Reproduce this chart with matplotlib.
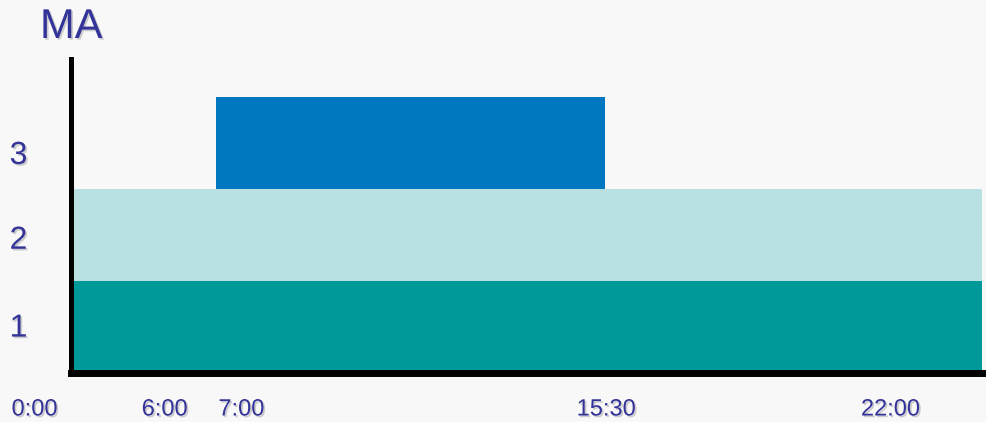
import matplotlib
matplotlib.use('Agg')
import matplotlib.pyplot as plt
import matplotlib.patheffects as pe
from matplotlib.transforms import ScaledTranslation, blended_transform_factory

TEXT_COLOR = '#333399'
BG = '#f8f8f8'
plt.rcParams['font.family'] = ['Liberation Sans', 'DejaVu Sans']

# staffing levels over the day (hours)
levels = ['1', '2', '3']
level_start = [0.0, 0.0, 7.0]
level_end = [24.0, 24.0, 15.5]
level_colors = ['#009999', '#b9e0e3', '#0077c1']

tick_hours = [0.0, 6.0, 7.0, 15.5, 22.0]
tick_labels = ['0:00', '6:00', '7:00', '15:30', '22:00']

shadow = [pe.withSimplePatchShadow(offset=(1.2, -1.2), shadow_rgbFace='#777777', alpha=0.35)]

fig = plt.figure(figsize=(9.86, 4.22), dpi=100, facecolor=BG)
ax = fig.add_axes([70.5 / 986, 1 - 372.5 / 422, (982 - 70.5) / 986, (372.5 - 59) / 422])
ax.set_facecolor(BG)

for i, (s, e, c) in enumerate(zip(level_start, level_end, level_colors)):
    ax.barh(i, e - s, left=s, height=1.0, align='edge', color=c, zorder=2)

ax.set_xlim(3.81, 23.74)
ax.set_ylim(0, 3.414)

for side in ['top', 'right']:
    ax.spines[side].set_visible(False)
ax.spines['left'].set_linewidth(3.6)
ax.spines['bottom'].set_linewidth(5)
ax.spines['left'].set_zorder(5)
ax.spines['bottom'].set_zorder(5)
ax.spines['left'].set_capstyle('projecting')
ax.set_xticks([])
ax.set_yticks([])

# x labels: the axis origin stands for 0:00, the chart is schematic
trans_x = blended_transform_factory(ax.transData, ax.transAxes)
x_nudge = [-36, -6, 2, 1, -12]
x_align = ['center', 'center', 'left', 'center', 'center']
for h, lab, dx, ha in zip(tick_hours, tick_labels, x_nudge, x_align):
    xpos = max(h, ax.get_xlim()[0])
    t = ax.text(xpos, 0, lab, ha=ha, va='baseline', fontsize=17, color=TEXT_COLOR,
                transform=trans_x + ScaledTranslation(dx / 100, -43 / 100, fig.dpi_scale_trans))
    t.set_path_effects(shadow)

trans_y = blended_transform_factory(ax.transAxes, ax.transData)
y_nudge = [-2, -6, -13]
for i, lab in enumerate(levels):
    t = ax.text(0, i + 0.5, lab, ha='center', va='center', fontsize=23, color=TEXT_COLOR,
                transform=trans_y + ScaledTranslation(-52 / 100, y_nudge[i] / 100, fig.dpi_scale_trans))
    t.set_path_effects(shadow)

title = fig.text(40 / 986, 1 - 38 / 422, 'MA', fontsize=30, color=TEXT_COLOR, va='baseline', ha='left')
title.set_path_effects(shadow)

fig.savefig('out.png', dpi=100, facecolor=BG)
